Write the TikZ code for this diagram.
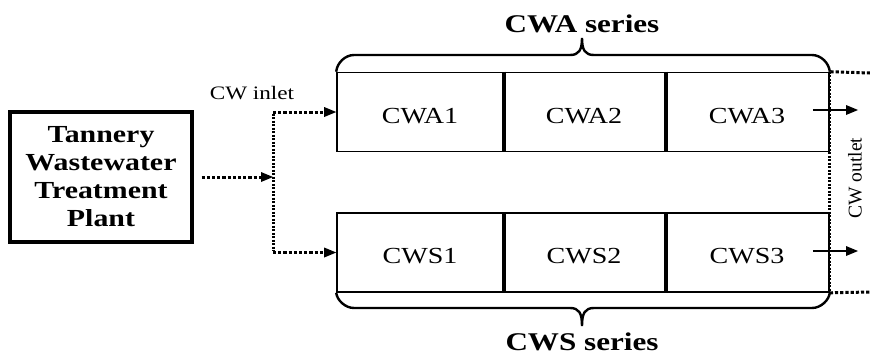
\documentclass[tikz,border=0pt]{standalone}
\usepackage{fontspec}
\setmainfont{Liberation Serif}[FakeStretch=1.22]
\newfontfamily\plainserif{Liberation Serif}
\usetikzlibrary{arrows.meta}
\begin{document}
\begin{tikzpicture}[x=1pt,y=-1pt,
  flow/.style={line width=3pt, dash pattern=on 3.2pt off 2pt},
  denseflow/.style={line width=3pt, dash pattern=on 2.2pt off 1.3pt},
  tip/.style={-{Triangle[length=12pt,width=10pt,line width=0pt]}},
  cell/.style={draw, line width=1.6pt, minimum height=79pt, inner sep=0pt,
    text height=22pt, text depth=0pt, font=\fontsize{23}{26}\selectfont},
  divider/.style={line width=3.4pt},
  brace/.style={line width=2.4pt},
  series/.style={font=\fontsize{25.5}{28}\selectfont\bfseries, inner sep=0pt, anchor=base}]
\useasboundingbox (0,0) rectangle (870,354);
\node[draw, line width=3.2pt, minimum width=182pt, minimum height=130pt, align=center,
  font=\fontsize{24.5}{28}\selectfont\bfseries] (plant) at (101,177) {Tannery\\Wastewater\\Treatment\\Plant};
\node[cell, minimum width=166pt] (a1) at (420,112) {CWA1};
\node[cell, minimum width=162pt] (a2) at (584,112) {CWA2};
\node[cell, minimum width=164pt] (a3) at (747,112) {CWA3};
\node[cell, minimum width=166pt] (s1) at (420,252.5) {CWS1};
\node[cell, minimum width=162pt] (s2) at (584,252.5) {CWS2};
\node[cell, minimum width=164pt] (s3) at (747,252.5) {CWS3};
\draw[divider] (a1.north east) -- (a1.south east);
\draw[divider] (a2.north east) -- (a2.south east);
\draw[divider] (s1.north east) -- (s1.south east);
\draw[divider] (s2.north east) -- (s2.south east);
% inlet
\coordinate (j) at (273,177);
\draw[flow, tip, shorten <=8pt] (plant.east) -- (j);
\draw[denseflow] ([yshift=-1.5pt]j |- a1.west) -- ([yshift=1.5pt]j |- s1.west);
\draw[flow, tip] (j |- a1.west) -- (a1.west);
\draw[flow, tip] (j |- s1.west) -- (s1.west);
\node[font=\fontsize{19}{22}\selectfont] (inlet) at (252,93) {CW inlet};
% braces
\draw[brace] (a1.north west) .. controls (337,63) and (345,55) .. (354,55) -- (570,55)
  .. controls (579,55) and (582,50) .. (582,38) .. controls (582,50) and (585,55) .. (594,55) -- (812,55)
  .. controls (821,55) and (829,63) .. (a3.north east);
\draw[brace] (s1.south west) .. controls (337,300) and (345,308) .. (354,308) -- (570,308)
  .. controls (579,308) and (582,313) .. (582,326) .. controls (582,313) and (585,308) .. (594,308) -- (812,308)
  .. controls (821,308) and (829,300) .. (s3.south east);
\node[series] (cwa) at (582,32) {CWA series};
\node[series] (cws) at (582,350) {CWS series};
% outlet
\coordinate (t1) at (870,73);
\coordinate (t2) at (870,292);
\draw[flow] (t1) -- (a3.north east);
\draw[denseflow] (a3.north east) -- (s3.south east);
\draw[flow] (s3.south east) -- (t2);
\coordinate (o1) at (858,110);
\coordinate (o2) at (858,251);
\draw[line width=1.5pt, tip] ([xshift=-17pt]a3.east |- o1) -- (o1);
\draw[line width=1.5pt, tip] ([xshift=-17pt]s3.east |- o2) -- (o2);
\node[rotate=90, inner sep=0pt, font=\plainserif\fontsize{19.5}{22}\selectfont] (outlet) at (855,178) {CW outlet};
\end{tikzpicture}
\end{document}
